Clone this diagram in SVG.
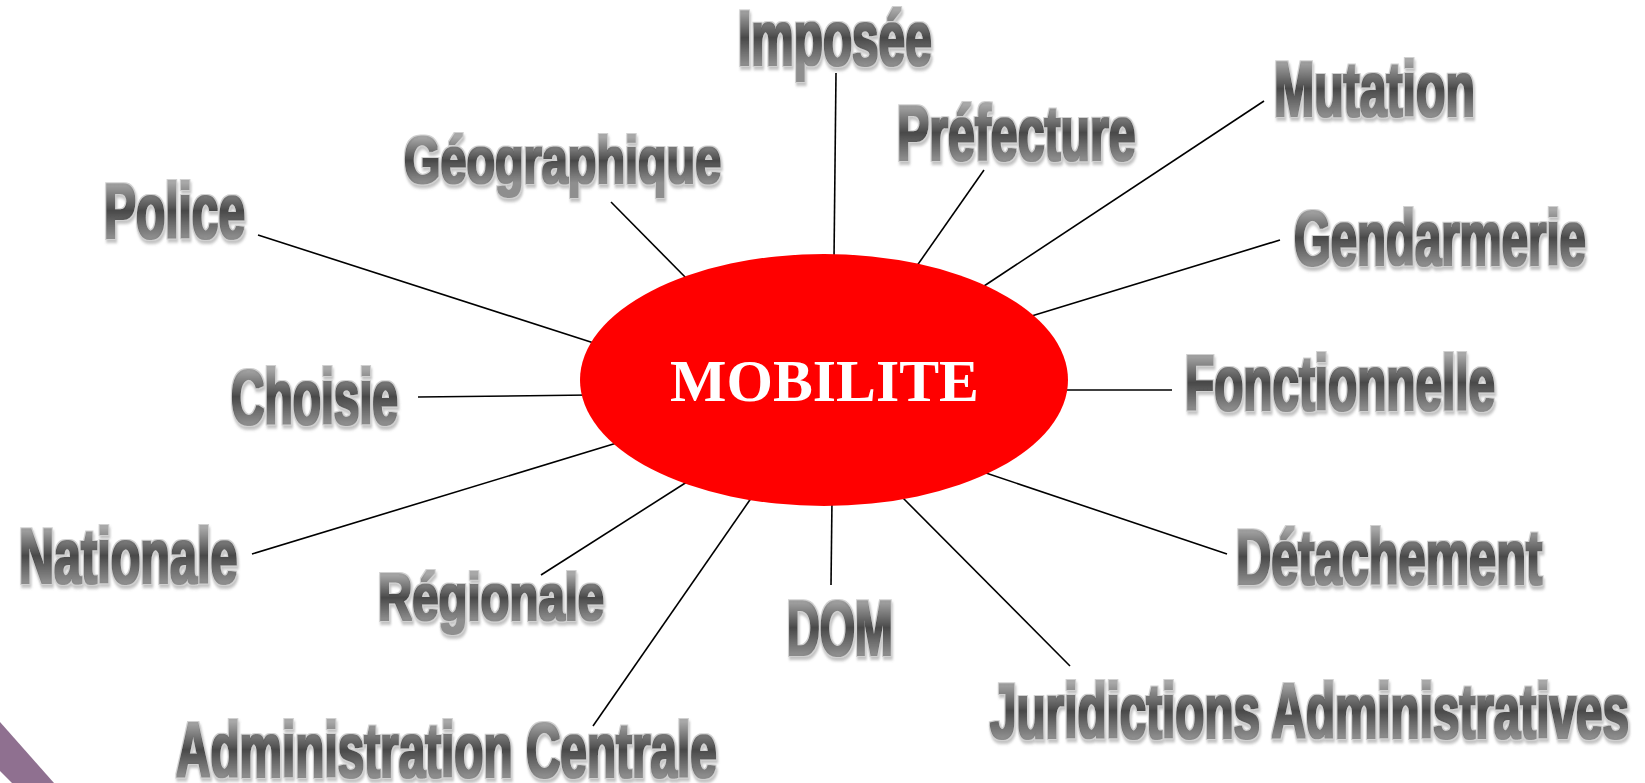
<svg xmlns="http://www.w3.org/2000/svg" width="1645" height="783" viewBox="0 0 1645 783">
<style>
.lbl{font-family:"Liberation Sans",Arial,sans-serif;font-weight:bold;font-size:78px;fill:url(#g);filter:url(#fx)}
.sm{font-size:66px}
.ln{stroke:#000;stroke-width:1.6;fill:none}
.ctr{font-family:"Liberation Serif","Times New Roman",serif;font-weight:bold;font-size:60px;fill:#fff}
</style>
<defs>
<linearGradient id="g" x1="0" y1="0" x2="0" y2="1">
<stop offset="0.17" stop-color="#a8a8a8"/>
<stop offset="0.5" stop-color="#464646"/>
<stop offset="0.82" stop-color="#8e8e8e"/>
</linearGradient>
<filter id="fx" x="-5%" y="-15%" width="110%" height="140%">
<feMorphology in="SourceGraphic" operator="dilate" radius="1.8 0.8" result="thick"/>
<feMorphology in="SourceAlpha" operator="dilate" radius="3.6 2.2" result="haloA"/>
<feFlood flood-color="#d0d0d0" result="hc"/>
<feComposite in="hc" in2="haloA" operator="in" result="halo"/>
<feOffset in="haloA" dx="2" dy="2.5" result="off"/>
<feGaussianBlur in="off" stdDeviation="1.5" result="blur"/>
<feFlood flood-color="#777" flood-opacity="0.45"/>
<feComposite in2="blur" operator="in" result="shadow"/>
<feMerge><feMergeNode in="shadow"/><feMergeNode in="halo"/><feMergeNode in="thick"/></feMerge>
</filter>
</defs>
<rect width="1645" height="783" fill="#fff"/>
<polygon points="0,722 54,783 12,783 0,771" fill="#8f7090"/>
<g id="connectors">
<line class="ln" x1="836" y1="73" x2="834" y2="260"/>
<line class="ln" x1="984" y1="170" x2="914" y2="270"/>
<line class="ln" x1="1264" y1="101" x2="978" y2="290"/>
<line class="ln" x1="1280" y1="240" x2="1025" y2="318"/>
<line class="ln" x1="611" y1="202" x2="690" y2="282"/>
<line class="ln" x1="258" y1="235" x2="600" y2="345"/>
<line class="ln" x1="418" y1="397" x2="590" y2="395"/>
<line class="ln" x1="1060" y1="390" x2="1172" y2="390"/>
<line class="ln" x1="252" y1="554" x2="620" y2="442"/>
<line class="ln" x1="541" y1="575" x2="690" y2="480"/>
<line class="ln" x1="593" y1="726" x2="754" y2="494"/>
<line class="ln" x1="831" y1="585" x2="832" y2="500"/>
<line class="ln" x1="1070" y1="666" x2="900" y2="495"/>
<line class="ln" x1="1227" y1="554" x2="980" y2="471"/>
</g>
<g id="center">
<ellipse cx="824" cy="380" rx="244" ry="126" fill="#ff0000"/>
<text class="ctr" x="670" y="401" textLength="309" lengthAdjust="spacingAndGlyphs">MOBILITE</text>
</g>
<g id="n-imposee"><text class="lbl" transform="translate(738,65) scale(0.65,1)" textLength="298" lengthAdjust="spacingAndGlyphs">Imposée</text></g>
<g id="n-prefecture"><text class="lbl" transform="translate(897,160) scale(0.65,1)" textLength="367" lengthAdjust="spacingAndGlyphs">Préfecture</text></g>
<g id="n-mutation"><text class="lbl" transform="translate(1274,116) scale(0.65,1)" textLength="309" lengthAdjust="spacingAndGlyphs">Mutation</text></g>
<g id="n-gendarmerie"><text class="lbl" transform="translate(1294,265) scale(0.65,1)" textLength="449" lengthAdjust="spacingAndGlyphs">Gendarmerie</text></g>
<g id="n-geographique"><text class="lbl sm" transform="translate(404,183) scale(0.65,1)" textLength="488" lengthAdjust="spacingAndGlyphs">Géographique</text></g>
<g id="n-police"><text class="lbl" transform="translate(104,238) scale(0.65,1)" textLength="217" lengthAdjust="spacingAndGlyphs">Police</text></g>
<g id="n-choisie"><text class="lbl" transform="translate(231,424) scale(0.65,1)" textLength="257" lengthAdjust="spacingAndGlyphs">Choisie</text></g>
<g id="n-fonctionnelle"><text class="lbl" transform="translate(1185,410) scale(0.65,1)" textLength="477" lengthAdjust="spacingAndGlyphs">Fonctionnelle</text></g>
<g id="n-nationale"><text class="lbl" transform="translate(19,583) scale(0.65,1)" textLength="336" lengthAdjust="spacingAndGlyphs">Nationale</text></g>
<g id="n-regionale"><text class="lbl sm" transform="translate(378,620) scale(0.65,1)" textLength="348" lengthAdjust="spacingAndGlyphs">Régionale</text></g>
<g id="n-dom"><text class="lbl" transform="translate(787,655) scale(0.65,1)" textLength="163" lengthAdjust="spacingAndGlyphs">DOM</text></g>
<g id="n-detachement"><text class="lbl" transform="translate(1236,584) scale(0.65,1)" textLength="471" lengthAdjust="spacingAndGlyphs">Détachement</text></g>
<g id="n-admin-centrale"><text class="lbl" transform="translate(176,777) scale(0.65,1)" textLength="832" lengthAdjust="spacingAndGlyphs">Administration Centrale</text></g>
<g id="n-juridictions"><text class="lbl" transform="translate(990,738) scale(0.65,1)" textLength="983" lengthAdjust="spacingAndGlyphs">Juridictions Administratives</text></g>
</svg>
